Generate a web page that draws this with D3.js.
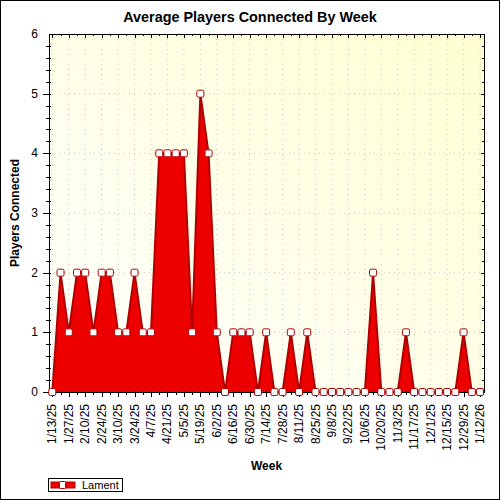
<!DOCTYPE html>
<html>
<head>
<meta charset="utf-8">
<script src="https://cdn.jsdelivr.net/npm/d3@7"></script>
<style>
  body { margin: 0; background: #fff; }
  text { font-family: "Liberation Sans", Arial, sans-serif; }
</style>
</head>
<body>
<div id="chart"></div>
<script>
// Weekly data
let weeks = ["1/13/25", "1/20/25", "1/27/25", "2/3/25", "2/10/25", "2/17/25", "2/24/25",
    "3/3/25", "3/10/25", "3/17/25", "3/24/25", "3/31/25", "4/7/25", "4/14/25", "4/21/25",
    "4/28/25", "5/5/25", "5/12/25", "5/19/25", "5/26/25", "6/2/25", "6/9/25", "6/16/25",
    "6/23/25", "6/30/25", "7/7/25", "7/14/25", "7/21/25", "7/28/25", "8/4/25", "8/11/25",
    "8/18/25", "8/25/25", "9/1/25", "9/8/25", "9/15/25", "9/22/25", "9/29/25", "10/6/25",
    "10/13/25", "10/20/25", "10/27/25", "11/3/25", "11/10/25", "11/17/25", "11/24/25",
    "12/1/25", "12/8/25", "12/15/25", "12/22/25", "12/29/25", "1/5/26", "1/12/26"];

let lament = [0, 2, 1, 2, 2, 1, 2, 2, 1, 1, 2, 1, 1, 4, 4, 4, 4, 1, 5, 4, 1, 0, 1,
    1, 1, 0, 1, 0, 0, 1, 0, 1, 0, 0, 0, 0, 0, 0, 0, 2, 0, 0, 0, 1, 0, 0,
    0, 0, 0, 0, 1, 0, 0];

let yTicks = [0, 1, 2, 3, 4, 5, 6];
let seriesName = "Lament";

let W = 500, H = 500,
    LEFT = 49, RIGHT = 484, TOP = 34, BOTTOM = 392;

let svg = d3.select('#chart')
    .append('svg')
    .attr('width', W)
    .attr('height', H);

let defs = svg.append('defs');
let grad = defs.append('linearGradient')
    .attr('id', 'bg')
    .attr('x1', '0%').attr('y1', '100%')
    .attr('x2', '100%').attr('y2', '0%');
grad.append('stop').attr('offset', '0%').attr('stop-color', '#ffffff');
grad.append('stop').attr('offset', '100%').attr('stop-color', '#ffffd2');

// outer frame
svg.append('rect')
    .attr('x', 0.5).attr('y', 0.5)
    .attr('width', W - 1).attr('height', H - 1)
    .attr('fill', '#fff').attr('stroke', '#000');

let x = d3.scalePoint().domain(weeks).range([52.3, 480]);
let y = d3.scaleLinear().domain([0, 6]).range([BOTTOM, TOP]);

// plot background
svg.append('rect')
    .attr('x', LEFT).attr('y', TOP)
    .attr('width', RIGHT - LEFT).attr('height', BOTTOM - TOP)
    .attr('fill', 'url(#bg)');

let major = weeks.filter((d, i) => i % 2 === 0);

// grid
svg.append('g').selectAll('line')
    .data(major)
    .enter().append('line')
    .attr('x1', d => x(d)).attr('x2', d => x(d))
    .attr('y1', TOP).attr('y2', BOTTOM)
    .attr('stroke', '#c8c8c8')
    .attr('stroke-dasharray', '1,4');

svg.append('g').selectAll('line')
    .data(yTicks.slice(1))
    .enter().append('line')
    .attr('x1', LEFT).attr('x2', RIGHT)
    .attr('y1', d => y(d)).attr('y2', d => y(d))
    .attr('stroke', '#c8c8c8')
    .attr('stroke-dasharray', '1,4');

// area + line
let area = d3.area()
    .x((d, i) => x(weeks[i]))
    .y0(y(0))
    .y1(d => y(d));

let line = d3.line()
    .x((d, i) => x(weeks[i]))
    .y(d => y(d));

svg.append('path')
    .datum(lament)
    .attr('d', area)
    .attr('fill', '#ec0000');

svg.append('path')
    .datum(lament)
    .attr('d', line)
    .attr('fill', 'none')
    .attr('stroke', '#b00000')
    .attr('stroke-width', 2);

// ticks, placed through the scales
let tickG = svg.append('g').attr('stroke', '#000').attr('shape-rendering', 'crispEdges');
weeks.forEach((d, i) => {
    let big = i % 2 === 0;
    let xx = Math.round(x(d)) + 0.5;
    tickG.append('line')
        .attr('x1', xx).attr('x2', xx)
        .attr('y1', BOTTOM - 1).attr('y2', BOTTOM + (big ? 5 : 3));
    tickG.append('line')
        .attr('x1', xx).attr('x2', xx)
        .attr('y1', TOP).attr('y2', TOP + (big ? 4 : 2));
});

let minorY = d3.range(0, 30).map(k => k / 5);
minorY.forEach(v => {
    let big = Math.abs(v - Math.round(v)) < 1e-6;
    let yy = Math.round(y(v)) + 0.5;
    tickG.append('line')
        .attr('x1', LEFT - (big ? 6 : 3)).attr('x2', LEFT + 2)
        .attr('y1', yy).attr('y2', yy);
    tickG.append('line')
        .attr('x1', RIGHT - (big ? 3 : 2)).attr('x2', RIGHT)
        .attr('y1', yy).attr('y2', yy);
});

// plot frame
svg.append('rect')
    .attr('x', LEFT + 0.5).attr('y', TOP + 0.5)
    .attr('width', RIGHT - LEFT).attr('height', BOTTOM - TOP)
    .attr('fill', 'none').attr('stroke', '#000');

// markers
svg.append('g').selectAll('rect')
    .data(lament)
    .enter().append('rect')
    .attr('x', (d, i) => x(weeks[i]) - 3.5)
    .attr('y', d => y(d) - 3.5)
    .attr('width', 7).attr('height', 7)
    .attr('rx', 1.5)
    .attr('fill', '#fff')
    .attr('stroke', '#b00000')
    .attr('stroke-width', 1);

// x tick labels
svg.append('g').selectAll('text')
    .data(major)
    .enter().append('text')
    .attr('transform', d => `translate(${x(d) + 4},404) rotate(-90)`)
    .attr('text-anchor', 'end')
    .attr('font-size', 12)
    .text(d => d);

// y tick labels
svg.append('g').selectAll('text')
    .data(yTicks)
    .enter().append('text')
    .attr('x', 38)
    .attr('y', d => y(d) + 4)
    .attr('text-anchor', 'end')
    .attr('font-size', 12)
    .text(d => d);

// titles
svg.append('text')
    .attr('x', 250).attr('y', 22)
    .attr('text-anchor', 'middle')
    .attr('font-size', 14.4).attr('font-weight', 'bold')
    .text('Average Players Connected By Week');

svg.append('text')
    .attr('x', (LEFT + RIGHT) / 2).attr('y', 470)
    .attr('text-anchor', 'middle')
    .attr('font-size', 12).attr('font-weight', 'bold')
    .text('Week');

svg.append('text')
    .attr('transform', `translate(19,${(TOP + BOTTOM) / 2}) rotate(-90)`)
    .attr('text-anchor', 'middle')
    .attr('font-size', 12).attr('font-weight', 'bold')
    .text('Players Connected');

// legend
let lg = svg.append('g');
lg.append('rect')
    .attr('x', 48.5).attr('y', 478.5)
    .attr('width', 74).attr('height', 13)
    .attr('fill', '#fff').attr('stroke', '#000');
lg.append('rect')
    .attr('x', 51).attr('y', 482)
    .attr('width', 24).attr('height', 6)
    .attr('fill', '#ec0000').attr('stroke', '#b00000');
lg.append('rect')
    .attr('x', 59.5).attr('y', 481.5)
    .attr('width', 6).attr('height', 7)
    .attr('rx', 1)
    .attr('fill', '#fff').attr('stroke', '#b00000');
lg.append('text')
    .attr('x', 82).attr('y', 489)
    .attr('font-size', 11)
    .text(seriesName);
</script>
</body>
</html>
